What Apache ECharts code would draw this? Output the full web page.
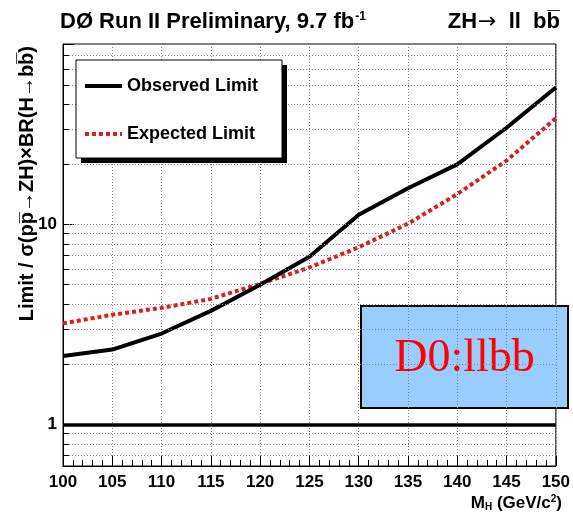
<!DOCTYPE html>
<html>
<head>
<meta charset="utf-8">
<script src="https://cdn.jsdelivr.net/npm/echarts@6/dist/echarts.min.js"></script>
<style>
  html, body { margin: 0; padding: 0; background: #fff; }
  #chart { width: 573px; height: 520px; }
</style>
</head>
<body>
<div id="chart"></div>
<script>
// Higgs mass points (GeV/c^2)
const massPoints = [100, 105, 110, 115, 120, 125, 130, 135, 140, 145, 150];
// Limit / SM cross section, observed and expected
const observedLimit = [2.2, 2.37, 2.85, 3.7, 5.0, 6.9, 11.2, 15.2, 20.0, 30.5, 48.5];
const expectedLimit = [3.2, 3.54, 3.83, 4.25, 5.05, 6.1, 7.7, 10.1, 14.2, 20.9, 34.0];
// log-axis minor grid positions
const yGridValues = [0.7, 0.8, 0.9, 2, 3, 4, 5, 6, 7, 8, 9, 10, 20, 30, 40, 50, 60, 70];
// labelled y ticks
const yTickLabels = [1, 10];
// reference line at limit = 1
const unitLimit = 1;

const FONT = "'Liberation Sans', Arial, sans-serif";

const pairs = (xs, ys) => xs.map((x, i) => [x, ys[i]]);

const chart = echarts.init(document.getElementById('chart'), null, { renderer: 'canvas' });

const gridLine = { color: '#808080', width: 1, type: [1, 2] };

chart.setOption({
  animation: false,
  backgroundColor: '#fff',
  grid: {
    left: 63, right: 11, top: 44, bottom: 54,
    show: true, borderColor: '#000', borderWidth: 1, backgroundColor: 'transparent'
  },
  xAxis: {
    type: 'value', min: 100, max: 150, interval: 5,
    axisLine: { show: true, onZero: false, lineStyle: { color: '#000', width: 1 } },
    axisTick: { show: true, inside: true, length: 10, lineStyle: { color: '#000' } },
    minorTick: { show: true, splitNumber: 5, length: 6, lineStyle: { color: '#000' } },
    splitLine: { show: true, lineStyle: gridLine },
    axisLabel: { color: '#000', fontFamily: FONT, fontWeight: 'bold', fontSize: 17, margin: 8 }
  },
  yAxis: {
    type: 'log', logBase: 10, min: 0.62, max: 80,
    axisLine: { show: true, lineStyle: { color: '#000', width: 1 } },
    axisTick: { show: true, inside: true, length: 11, lineStyle: { color: '#000' } },
    splitLine: { show: false },
    axisLabel: {
      color: '#000', fontFamily: FONT, fontWeight: 'bold', fontSize: 17, margin: 6,
      formatter: v => {
        const hit = yTickLabels.find(t => Math.abs(v - t) < 1e-6 * t);
        return hit !== undefined ? String(hit) : '';
      }
    }
  },
  legend: {
    data: ['Observed Limit', 'Expected Limit'],
    orient: 'vertical', left: 76, top: 60, z: 20,
    padding: [16, 22, 14, 7],
    itemWidth: 37, itemHeight: 20, itemGap: 28,
    selectedMode: false,
    itemStyle: { opacity: 0 },
    lineStyle: { width: 4 },
    textStyle: { color: '#000', fontFamily: FONT, fontWeight: 'bold', fontSize: 18, lineHeight: 20 }
  },
  graphic: [
    // legend frame with its hard drop shadow
    { type: 'rect', z: 10, shape: { x: 81, y: 65, width: 206, height: 98 }, style: { fill: '#000' } },
    { type: 'rect', z: 11, shape: { x: 76, y: 60, width: 206, height: 98 },
      style: { fill: '#fff', stroke: '#000', lineWidth: 1 } },
    {
      type: 'text', left: 60, top: 11,
      style: {
        text: 'DØ Run II Preliminary, 9.7 fb{sup|-1}',
        font: "bold 22px " + FONT, fill: '#000',
        rich: { sup: { font: "bold 12px " + FONT, fill: '#000', verticalAlign: 'top', padding: [0, 0, 10, 1] } }
      }
    },
    {
      type: 'text', right: 13, top: 11,
      style: {
        text: 'ZH{arr|\u2192}  ll  bb\u0305',
        font: "bold 22px " + FONT, fill: '#000',
        rich: { arr: { font: "22px 'DejaVu Sans', sans-serif", fill: '#000', padding: [0, 0, 0, 1] } }
      }
    },
    {
      type: 'text', x: 27, y: 46, rotation: Math.PI / 2,
      style: {
        text: 'Limit / \u03c3(pp\u0305\u2192ZH)\u00d7BR(H\u2192bb\u0305)',
        font: "bold 20px " + FONT, fill: '#000', align: 'right', verticalAlign: 'middle'
      }
    },
    {
      type: 'text', right: 11, top: 494,
      style: {
        text: 'M{sub|H} (GeV/c{sup|2})',
        font: "bold 17px " + FONT, fill: '#000',
        rich: {
          sub: { font: "bold 10px " + FONT, fill: '#000', verticalAlign: 'bottom', padding: [8, 0, 0, 0] },
          sup: { font: "bold 10px " + FONT, fill: '#000', verticalAlign: 'top', padding: [0, 0, 8, 0] }
        }
      }
    },
    {
      type: 'group', left: 360, top: 305, z: 100,
      children: [
        { type: 'rect', shape: { x: 0, y: 0, width: 207, height: 102 },
          style: { fill: '#99ccff', stroke: '#000', lineWidth: 2 } },
        { type: 'text', x: 103.5, y: 53,
          style: { text: 'D0:llbb', font: "46px 'Liberation Serif', 'DejaVu Serif', serif",
                   fill: '#ff0000', align: 'center', verticalAlign: 'middle' } }
      ]
    }
  ],
  series: [
    {
      // dotted minor grid and short tick marks on the left axis
      name: 'grid', type: 'line', data: [], z: 1, silent: true,
      markLine: {
        silent: true, symbol: ['none', 'none'], label: { show: false },
        lineStyle: gridLine,
        data: yGridValues.map(v => ({ yAxis: v }))
          .concat(yGridValues.map(v => [
            { coord: [100, v], lineStyle: { color: '#000', width: 1, type: 'solid' } },
            { coord: [100.6, v] }
          ]))
      }
    },
    {
      name: 'unit', type: 'line', data: [], z: 2, silent: true,
      markLine: {
        silent: true, symbol: ['none', 'none'], label: { show: false },
        lineStyle: { color: '#000', width: 3.5, type: 'solid' },
        data: [{ yAxis: unitLimit }]
      }
    },
    {
      name: 'Expected Limit', type: 'line', z: 3,
      data: pairs(massPoints, expectedLimit),
      symbol: 'none', color: '#d42020', itemStyle: { opacity: 0 },
      lineStyle: { color: '#d42020', width: 4, type: [4, 3] }
    },
    {
      name: 'Observed Limit', type: 'line', z: 4,
      data: pairs(massPoints, observedLimit),
      symbol: 'none', color: '#000', itemStyle: { opacity: 0 },
      lineStyle: { color: '#000', width: 4 }
    }
  ]
});
</script>
</body>
</html>
